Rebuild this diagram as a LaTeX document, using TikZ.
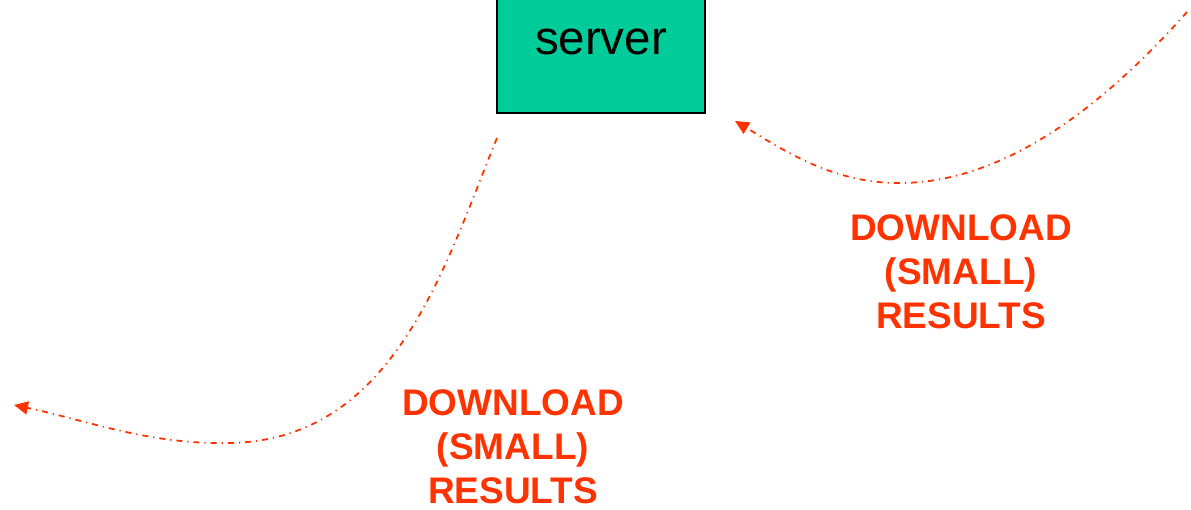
\documentclass[tikz,border=0pt]{standalone}
\usepackage{fontspec}
\setmainfont{Liberation Sans}
\usetikzlibrary{arrows.meta}
\definecolor{srvgreen}{HTML}{00CC99}
\definecolor{dlred}{HTML}{FF3300}
\tikzset{
  box/.style={draw=black, line width=1.6pt, fill=srvgreen, minimum width=208pt, minimum height=135pt, inner sep=0pt},
  flow/.style={draw=dlred, line width=1.8pt, dash pattern=on 6pt off 5pt on 1.2pt off 5pt,
    -{Triangle[length=14pt,width=13pt]}},
  lab/.style={text=dlred, font=\fontsize{37}{44}\selectfont\bfseries, align=center}
}
\begin{document}
\begin{tikzpicture}[x=1pt,y=-1pt]
\useasboundingbox (0,0) rectangle (1191,510);
\node[box] (srv) at (601,45.5) {};
\node[font=\fontsize{47.5}{56}\selectfont, anchor=base] (srvtxt) at (601,55) {server};
\coordinate (ls) at (497,138);
\coordinate (le) at (14,405);
\coordinate (rs) at (1187,12);
\coordinate (re) at (735,121);
\draw[flow] (ls) .. controls (445,265) and (395,440) .. (230,443)
  .. controls (150,445) and (85,420) .. (le);
\draw[flow] (rs) .. controls (1100,110) and (1000,185) .. (895,183)
  .. controls (830,182) and (780,148) .. (re);
\node[lab] (l1) at (961,272) {DOWNLOAD\\(SMALL)\\RESULTS};
\node[lab] (l2) at (513,447) {DOWNLOAD\\(SMALL)\\RESULTS};
\end{tikzpicture}
\end{document}
